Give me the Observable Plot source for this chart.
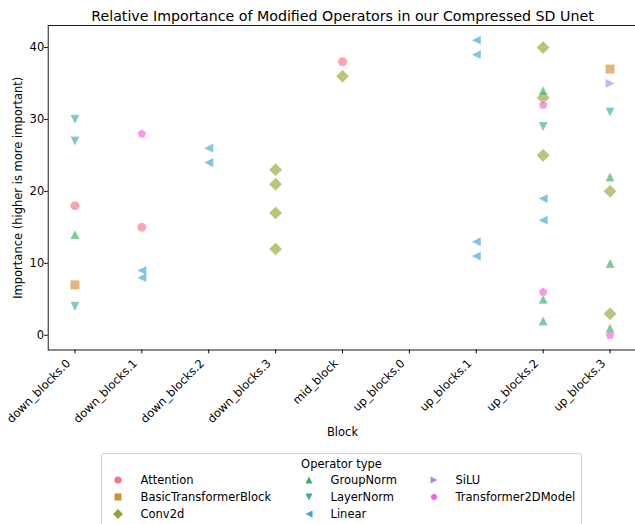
<!DOCTYPE html>
<html><head><meta charset="utf-8">
<script src="https://cdn.jsdelivr.net/npm/d3@7"></script>
<script src="https://cdn.jsdelivr.net/npm/@observablehq/plot@0.6"></script>
<style>
body{margin:0;background:#fff;font-family:"DejaVu Sans",sans-serif;}
#wrap{position:relative;width:635px;height:524px;overflow:hidden;background:#fff;}
#legend{position:absolute;left:101px;top:453px;width:481px;height:100px;border:1px solid #d3d3d3;border-radius:3px;box-sizing:border-box;background:#fff;}
.lt{position:absolute;font-size:11.5px;line-height:14px;white-space:nowrap;color:#000;}
.lm{position:absolute;}
</style></head><body><div id="wrap"><div id="chart"></div><div id="legend"></div></div>
<script>
const blocks = ["down_blocks.0","down_blocks.1","down_blocks.2","down_blocks.3","mid_block","up_blocks.0","up_blocks.1","up_blocks.2","up_blocks.3"];
const operators = ["Attention","BasicTransformerBlock","Conv2d","GroupNorm","LayerNorm","Linear","SiLU","Transformer2DModel"];
const colors = ["#f77189","#ce9032","#97a431","#32b166","#36ada4","#39a7d0","#a48cf4","#f561dd"];
const pointBlock = [
  "down_blocks.0","down_blocks.0","down_blocks.0","down_blocks.0","down_blocks.0","down_blocks.0",
  "down_blocks.1","down_blocks.1","down_blocks.1","down_blocks.1",
  "down_blocks.2","down_blocks.2",
  "down_blocks.3","down_blocks.3","down_blocks.3","down_blocks.3",
  "mid_block","mid_block",
  "up_blocks.1","up_blocks.1","up_blocks.1","up_blocks.1",
  "up_blocks.2","up_blocks.2","up_blocks.2","up_blocks.2","up_blocks.2","up_blocks.2","up_blocks.2","up_blocks.2","up_blocks.2","up_blocks.2","up_blocks.2",
  "up_blocks.3","up_blocks.3","up_blocks.3","up_blocks.3","up_blocks.3","up_blocks.3","up_blocks.3","up_blocks.3","up_blocks.3"
];
const pointOperator = [
  "Attention","BasicTransformerBlock","GroupNorm","LayerNorm","LayerNorm","LayerNorm",
  "Attention","Linear","Linear","Transformer2DModel",
  "Linear","Linear",
  "Conv2d","Conv2d","Conv2d","Conv2d",
  "Attention","Conv2d",
  "Linear","Linear","Linear","Linear",
  "Conv2d","Conv2d","Conv2d","GroupNorm","GroupNorm","GroupNorm","LayerNorm","Linear","Linear","Transformer2DModel","Transformer2DModel",
  "BasicTransformerBlock","Conv2d","Conv2d","GroupNorm","GroupNorm","GroupNorm","LayerNorm","SiLU","Transformer2DModel"
];
const pointValue = [
  18,7,14,30,27,4,
  15,9,8,28,
  26,24,
  23,21,17,12,
  38,36,
  41,39,13,11,
  40,33,25,34,5,2,29,19,16,32,6,
  37,20,3,22,10,1,31,35,0
];
const yTicks = [0,10,20,30,40];
const titleText = "Relative Importance of Modified Operators in our Compressed SD Unet";
const xLabel = "Block";
const yLabel = "Importance (higher is more important)";
const legendTitle = "Operator type";

function makeSymbols(m) {
  const h = m / 2;
  const poly = pts => ({draw(c){ c.moveTo(pts[0][0], pts[0][1]); for (let i = 1; i < pts.length; i++) c.lineTo(pts[i][0], pts[i][1]); c.closePath(); }});
  const d = h * Math.SQRT2;
  const pent = [];
  for (let k = 0; k < 5; k++) { const a = -Math.PI/2 + k*2*Math.PI/5; pent.push([h*Math.cos(a), h*Math.sin(a)]); }
  return [
    {draw(c){ c.moveTo(h, 0); c.arc(0, 0, h, 0, 2*Math.PI); c.closePath(); }},
    poly([[-h,-h],[h,-h],[h,h],[-h,h]]),
    poly([[0,-d],[d,0],[0,d],[-d,0]]),
    poly([[0,-h],[h,h],[-h,h]]),
    poly([[0,h],[h,-h],[-h,-h]]),
    poly([[-h,0],[h,-h],[h,h]]),
    poly([[h,0],[-h,-h],[-h,h]]),
    poly(pent)
  ];
}
const plotSymbols = makeSymbols(9.2);

const data = pointValue.map((v, i) => ({block: pointBlock[i], op: pointOperator[i], value: v}));

const chart = Plot.plot({
  width: 635, height: 445,
  marginTop: 25, marginBottom: 95.5, marginLeft: 47.7, marginRight: -1.3,
  style: {fontFamily: "DejaVu Sans", fontSize: "11.5px", color: "#000", background: "#fff", overflow: "visible"},
  x: {type: "point", domain: blocks, padding: 0.4, round: false},
  y: {domain: [-2.05, 43.05]},
  color: {domain: operators, range: colors},
  symbol: {domain: operators, range: plotSymbols},
  marks: [
    Plot.axisY(yTicks, {tickSize: 3.5, tickPadding: 0.5, label: null, stroke: "#000"}),
    Plot.axisX({tickSize: 3.8, tickFormat: () => "", label: null, stroke: "#000"}),
    Plot.axisX({tickRotate: -45, textAnchor: "end", lineAnchor: "middle", tickSize: 0, tickPadding: 11.5, dx: -6.5, label: null}),
    Plot.dot(data, {x: "block", y: "value", fill: "op", symbol: "op", r: 4.6, fillOpacity: 0.65, stroke: "#fff", strokeWidth: 0.4, strokeOpacity: 0.65}),
    Plot.frame({stroke: "#000", strokeWidth: 0.9}),
    Plot.text([titleText], {frameAnchor: "top", dy: -9, lineAnchor: "middle", fontSize: 14.2}),
    Plot.text([xLabel], {frameAnchor: "bottom", dy: 82.5, lineAnchor: "middle"}),
    Plot.text([yLabel], {frameAnchor: "left", dx: -30, rotate: -90, lineAnchor: "middle", textAnchor: "middle"})
  ]
});
document.getElementById("chart").appendChild(chart);

// legend
const legend = document.getElementById("legend");
const lt = document.createElement("div");
lt.className = "lt";
lt.textContent = legendTitle;
lt.style.left = "0"; lt.style.width = "100%"; lt.style.textAlign = "center"; lt.style.top = (9.5 - 7) + "px";
legend.appendChild(lt);
const legSymbols = makeSymbols(7);
const colMarker = [16.2, 206.5, 331.5];
const colText = [38.5, 228.5, 353.5];
const rowY = [27.2, 44.2, 61.2];
operators.forEach((op, i) => {
  const col = Math.floor(i / 3), row = i % 3;
  const p = d3.path();
  legSymbols[i].draw(p);
  const svg = d3.create("svg").attr("class", "lm").attr("width", 14).attr("height", 14)
    .style("left", (colMarker[col] - 7) + "px").style("top", (rowY[row] - 8) + "px");
  svg.append("path").attr("d", p.toString()).attr("transform", "translate(7,7)").attr("fill", colors[i]);
  legend.appendChild(svg.node());
  const t = document.createElement("div");
  t.className = "lt";
  t.textContent = op;
  t.style.left = colText[col] + "px";
  t.style.top = (rowY[row] - 8) + "px";
  legend.appendChild(t);
});
</script>
</body></html>
